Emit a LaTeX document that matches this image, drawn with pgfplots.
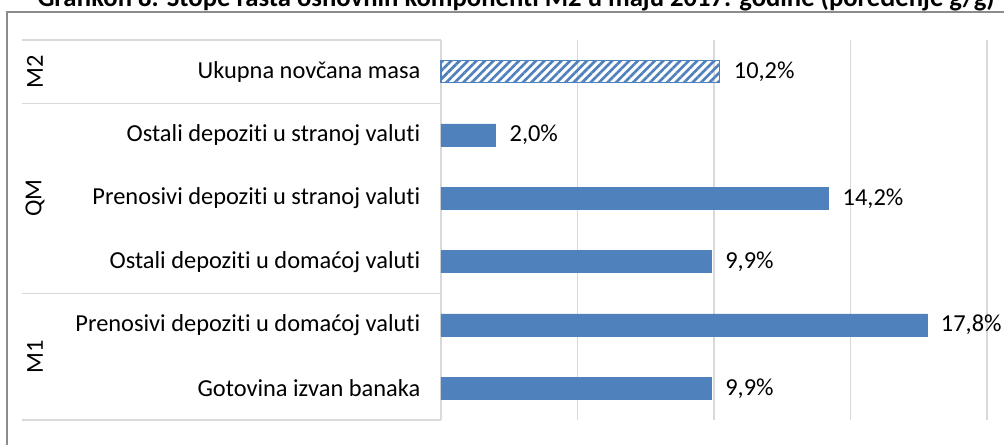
\documentclass[border=0pt]{standalone}
\usepackage{pgfplots}
\pgfplotsset{compat=1.18}
\usetikzlibrary{patterns.meta}
\usepackage{fontspec}
\setmainfont{Carlito}[Ligatures=NoCommon]
\definecolor{barblue}{HTML}{4F81BD}
\definecolor{gridgray}{HTML}{D9D9D9}
\definecolor{framegray}{HTML}{8C8C8C}
\newcommand{\lblfont}{\fontsize{18.3}{22}\selectfont}
\begin{document}
\begin{tikzpicture}[x=0.75pt,y=0.75pt]
\useasboundingbox (0,0) rectangle (1004,444);
\draw[framegray, line width=1.5pt] (7,-10) -- (7,431.5) -- (1020,431.5);
\node[font=\bfseries\fontsize{20}{24}\selectfont, anchor=base, inner sep=0pt] at (516,437.3) {Grafikon 8. Stope rasta osnovnih komponenti M2 u maju 2017. godine (poređenje g/g)};
\begin{axis}[
  at={(330.75pt,18pt)}, anchor=south west,
  scale only axis, width=409.5pt, height=285pt,
  xbar, xmin=0, xmax=20, ymin=-0.5, ymax=5.5,
  bar width=0.35,
  clip=false,
  ytick={0,1,2,3,4,5},
  yticklabels={Gotovina izvan banaka, Prenosivi depoziti u domaćoj valuti, Ostali depoziti u domaćoj valuti, Prenosivi depoziti u stranoj valuti, Ostali depoziti u stranoj valuti, Ukupna novčana masa},
  xtick={5,10,15,20}, xticklabels={},
  xmajorgrids, major grid style={gridgray, line width=1.2pt},
  major tick length=0pt,
  axis lines*=left,
  x axis line style={draw=none},
  y axis line style={gridgray, line width=1.2pt},
  tick label style={font=\lblfont},
  yticklabel style={xshift=-12pt},
  point meta=x,
  nodes near coords={\pgfmathprintnumber{\pgfplotspointmeta}\%},
  nodes near coords style={font=\lblfont, anchor=west, xshift=7pt,
    /pgf/number format/.cd, use comma, fixed, fixed zerofill, precision=1, assume math mode=true},
]
\addplot[draw=barblue, fill=barblue, bar shift=0pt] coordinates {(9.9,0) (17.8,1) (9.9,2) (14.2,3) (2.0,4)};
\addplot[draw=barblue, line width=1pt, pattern={Lines[angle=45, distance=4.5pt, line width=2pt]}, pattern color=barblue, bar shift=0pt] coordinates {(10.2,5)};
\foreach \yy in {5.5,4.5,1.5,-0.5} {
  \edef\tmp{\noexpand\draw[gridgray, line width=1.2pt] (axis cs:-15.35,\yy) -- (axis cs:0,\yy);}\tmp
}
\node[rotate=90, font=\lblfont] at (axis cs:-14.87,5) {M2};
\node[rotate=90, font=\lblfont] at (axis cs:-14.87,3) {QM};
\node[rotate=90, font=\lblfont] at (axis cs:-14.87,0.5) {M1};
\end{axis}
\end{tikzpicture}
\end{document}
